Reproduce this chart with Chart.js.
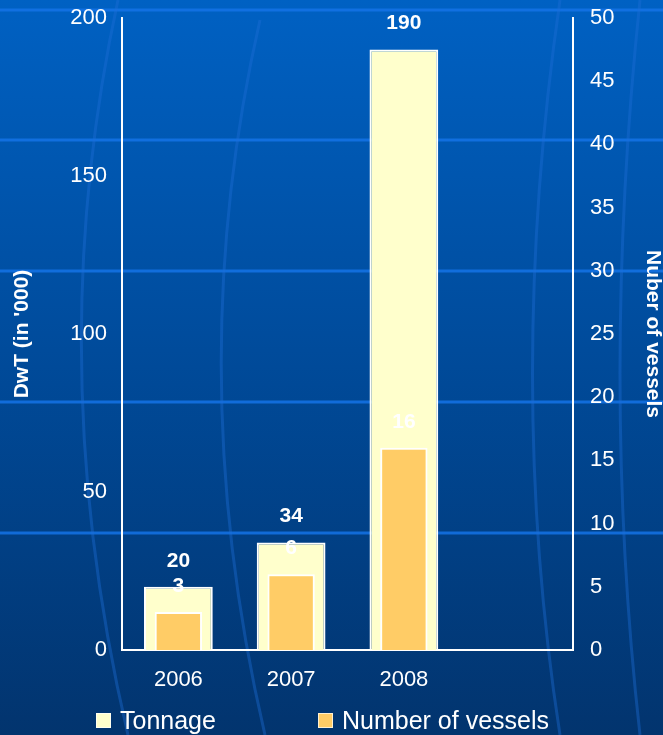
<!DOCTYPE html>
<html>
<head>
<meta charset="utf-8">
<script src="https://cdn.jsdelivr.net/npm/chart.js@4/dist/chart.umd.min.js"></script>
<style>
  html, body { margin: 0; padding: 0; background: #00449a; }
  #wrap { width: 663px; height: 735px; position: relative; }
</style>
</head>
<body>
<div id="wrap"><canvas id="myChart"></canvas></div>
<script>
var years = ['2006', '2007', '2008', ''];
var tonnage = [20, 34, 190, null];
var vessels = [3, 6, 16, null];
var legendNames = ['Tonnage', 'Number of vessels'];

var FONT = '"Liberation Sans", Arial, sans-serif';
var ctx = document.getElementById('myChart');

// slide style background: gradient, horizontal stripes, faint curves
var backdrop = {
  id: 'backdrop',
  beforeDraw: function(chart) {
    var c = chart.ctx, w = chart.width, h = chart.height;
    c.save();
    var g = c.createLinearGradient(0, 0, 0, h);
    g.addColorStop(0, '#0061c3');
    g.addColorStop(0.5, '#004a99');
    g.addColorStop(1, '#02346e');
    c.fillStyle = g;
    c.fillRect(0, 0, w, h);

    c.strokeStyle = 'rgba(20,115,230,0.85)';
    c.lineWidth = 3;
    [10, 140, 271, 402, 533].forEach(function(y) {
      c.beginPath();
      c.moveTo(0, y);
      c.lineTo(w, y);
      c.stroke();
    });

    c.strokeStyle = 'rgba(30,110,215,0.4)';
    c.lineWidth = 3;
    var curves = [
      [[118, 0], [40, 360], [128, 735]],
      [[260, 20], [180, 370], [265, 735]],
      [[560, 0], [505, 380], [560, 735]],
      [[640, 0], [600, 380], [640, 735]]
    ];
    curves.forEach(function(p) {
      c.beginPath();
      c.moveTo(p[0][0], p[0][1]);
      c.quadraticCurveTo(p[1][0], p[1][1], p[2][0], p[2][1]);
      c.stroke();
    });
    c.restore();
  }
};

// value labels above bars
var valueLabels = {
  id: 'valueLabels',
  afterDatasetsDraw: function(chart) {
    var c = chart.ctx;
    c.save();
    c.fillStyle = '#ffffff';
    c.font = 'bold 21px ' + FONT;
    c.textAlign = 'center';
    c.textBaseline = 'middle';
    [0, 1].forEach(function(i) {
      var meta = chart.getDatasetMeta(i);
      var data = chart.data.datasets[i].data;
      meta.data.forEach(function(bar, j) {
        if (data[j] == null) return;
        c.fillText(String(data[j]), bar.x, bar.y - 26);
      });
    });
    c.restore();
  }
};

// legend at bottom
var bottomLegend = {
  id: 'bottomLegend',
  afterDraw: function(chart) {
    var c = chart.ctx;
    var colors = [chart.data.datasets[0].backgroundColor, chart.data.datasets[1].backgroundColor];
    var starts = [96, 318];
    c.save();
    c.font = '25px ' + FONT;
    c.textBaseline = 'middle';
    c.textAlign = 'left';
    legendNames.forEach(function(name, i) {
      var x = starts[i], y = 721;
      c.fillStyle = colors[i];
      c.fillRect(x, y - 8, 15, 15);
      c.strokeStyle = 'rgba(255,255,255,0.7)';
      c.lineWidth = 1;
      c.strokeRect(x + 0.5, y - 7.5, 14, 14);
      c.fillStyle = '#ffffff';
      c.fillText(name, x + 24, y + 1);
    });
    c.restore();
  }
};

function fitY(width) {
  return function(scale) {
    scale.width = width;
    scale.paddingTop = 0;
    scale.paddingBottom = 0;
  };
}

new Chart(ctx, {
  type: 'bar',
  data: {
    labels: years,
    datasets: [{
      label: legendNames[0],
      data: tonnage,
      backgroundColor: '#ffffcc',
      borderColor: '#ffffff',
      borderWidth: 2,
      yAxisID: 'y',
      grouped: false,
      categoryPercentage: 1,
      barPercentage: 0.61,
      order: 2
    }, {
      label: legendNames[1],
      data: vessels,
      backgroundColor: '#ffcc66',
      borderColor: '#ffffff',
      borderWidth: 2,
      yAxisID: 'y1',
      grouped: false,
      categoryPercentage: 1,
      barPercentage: 0.42,
      order: 1
    }]
  },
  plugins: [backdrop, valueLabels, bottomLegend],
  options: {
    responsive: true,
    maintainAspectRatio: false,
    animation: false,
    layout: { padding: { top: 18, bottom: 40, left: 0, right: 0 } },
    plugins: {
      legend: { display: false },
      tooltip: { enabled: false }
    },
    scales: {
      x: {
        grid: { display: false, drawTicks: false },
        border: { color: '#ffffff', width: 2 },
        ticks: { color: '#ffffff', font: { family: FONT, size: 22 }, padding: 17 },
        afterFit: function(scale) {
          scale.height = 45;
          scale.paddingLeft = 0;
          scale.paddingRight = 0;
        }
      },
      y: {
        position: 'left',
        min: 0,
        max: 200,
        grid: { display: false, drawTicks: false },
        border: { color: '#ffffff', width: 2 },
        ticks: { stepSize: 50, color: '#ffffff', font: { family: FONT, size: 22 }, padding: 15 },
        title: {
          display: true,
          text: "DwT (in '000)",
          color: '#ffffff',
          font: { family: FONT, size: 21, weight: 'bold', lineHeight: 1 },
          padding: { top: 12, bottom: 0 }
        },
        afterFit: fitY(122)
      },
      y1: {
        position: 'right',
        min: 0,
        max: 50,
        grid: { display: false, drawTicks: false },
        border: { color: '#ffffff', width: 2 },
        ticks: { stepSize: 5, color: '#ffffff', font: { family: FONT, size: 22 }, padding: 17 },
        title: {
          display: true,
          text: 'Nuber of vessels',
          color: '#ffffff',
          font: { family: FONT, size: 21, weight: 'bold', lineHeight: 1 },
          padding: { top: 0, bottom: 0 }
        },
        afterFit: fitY(90)
      }
    }
  }
});
</script>
</body>
</html>
